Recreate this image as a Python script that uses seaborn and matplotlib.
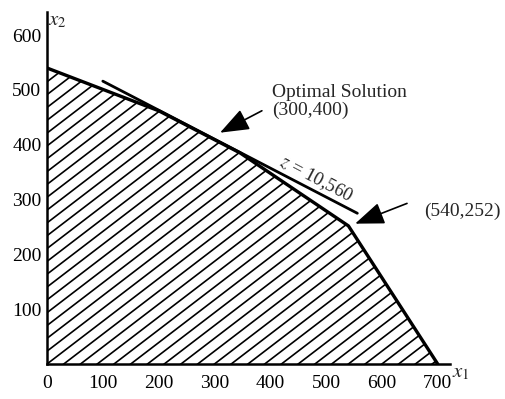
import numpy as np
import seaborn as sns
from matplotlib import pyplot as plt
from matplotlib.patches import Polygon

# feasible region corners (x1, x2)
region_x1 = [0, 0, 200, 346, 540, 700]
region_x2 = [0, 540, 462, 385, 252, 0]

# objective line z = 10,560
tangent_x1 = [100, 556]
tangent_x2 = [516, 275]

x_ticks = [0, 100, 200, 300, 400, 500, 600, 700]
y_ticks = [100, 200, 300, 400, 500, 600]

optimal_label = 'Optimal Solution\n(300,400)'
corner_label = '(540,252)'
z_label = r'$z$ = 10,560'

sns.set_theme(style='white')
plt.rcParams['font.family'] = ['Liberation Serif', 'DejaVu Serif']
plt.rcParams['mathtext.fontset'] = 'stix'

fig = plt.figure(figsize=(5.06, 3.99), dpi=100)
ax = fig.add_axes([0.0929, 0.0877, 0.7964, 0.882])
ax.set_xlim(0, 722)
ax.set_ylim(0, 642)

    # hatched region
poly = Polygon(np.column_stack([region_x1, region_x2]), closed=True,
               facecolor='none', edgecolor='none')
ax.add_patch(poly)
slope = 0.78      # hatch direction in data units (~38 deg on screen)
step = 30.0       # horizontal spacing of hatch lines
xs = np.array([-50, 800])
for c in np.arange(-900, 720, step):
    ln, = ax.plot(xs, slope * (xs - c), color='black', lw=1.2)
    ln.set_clip_path(poly)

    # boundary of region
sns.lineplot(x=region_x1[1:], y=region_x2[1:], sort=False, color='black',
             lw=2.4, ax=ax)
    # objective line
sns.lineplot(x=tangent_x1, y=tangent_x2, sort=False, color='black',
             lw=2.0, ax=ax)

    # annotations
arrow = dict(arrowstyle='-|>,head_length=1.0,head_width=0.38', color='black',
             lw=1.2, mutation_scale=18, shrinkA=0, shrinkB=0)
ax.annotate('', xy=(310, 422), xytext=(385, 462), arrowprops=arrow)
ax.annotate('', xy=(552, 256), xytext=(645, 293), arrowprops=arrow)
ax.text(403, 510, optimal_label, fontsize=14, ha='left', va='top',
        linespacing=1.0)
ax.text(676, 278, corner_label, fontsize=14, ha='left', va='center',
        clip_on=False)
ax.text(482, 338, z_label, fontsize=13.5, ha='center', va='center',
        rotation=-27.7, rotation_mode='anchor')

ax.text(742, -16, r'$x_1$', fontsize=15, ha='center', va='center',
        clip_on=False)
ax.text(2, 627, r'$x_2$', fontsize=15, ha='left', va='center',
        clip_on=False)

    # axes
ax.set_xticks(x_ticks)
ax.set_yticks(y_ticks)
ax.tick_params(axis='both', length=0, labelsize=14, colors='black')
ax.tick_params(axis='x', pad=8)
ax.tick_params(axis='y', pad=4)
for side in ['top', 'right']:
    ax.spines[side].set_visible(False)
for side in ['left', 'bottom']:
    ax.spines[side].set_color('black')
    ax.spines[side].set_linewidth(1.8)
ax.set_xlabel('')
ax.set_ylabel('')

plt.savefig('out.png', dpi=100)
